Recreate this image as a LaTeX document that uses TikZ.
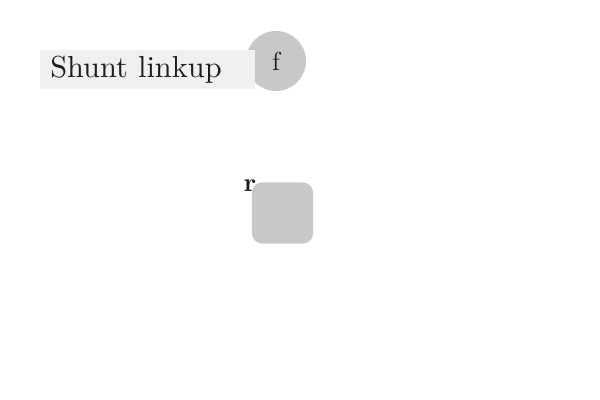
\documentclass[tikz,border=0pt]{standalone}
\usepackage{xcolor}
\usepackage{graphicx}
\definecolor{boxgray}{HTML}{F0F0F0}
\definecolor{dotgray}{HTML}{C8C8C8}
\definecolor{inkgray}{HTML}{1E1E1E}

\begin{document}
\begin{tikzpicture}[x=0.025cm, y=-0.025cm,
    shuntbox/.style={fill=boxgray, anchor=west, inner xsep=0.25cm, inner ysep=0pt,
        minimum height=0.975cm, text width=4.875cm, align=left, text=inkgray},
    fdot/.style={circle, fill=dotgray, minimum size=1.5cm, inner sep=0pt, text=inkgray},
    rbox/.style={rectangle, rounded corners=0.25cm, fill=dotgray,
        minimum size=1.525cm, inner sep=0pt},
    rtag/.style={font=\bfseries, text=inkgray, inner sep=0pt}]

% 画布
\useasboundingbox (0,0) rectangle (600,400);

% 上方:圆点在后,标签框在前
\node[fdot] (f) at (276,61) {\scalebox{1.85}{f}};
\node[shuntbox] (shunt) at (40,69.5) {\scalebox{2.16}{Shunt linkup}};

% 中间:圆角方块
\node[rbox] (r) at (282.5,213) {};
\node[rtag] (rlabel) at (250,186) {\scalebox{1.85}{r}};

\end{tikzpicture}
\end{document}
